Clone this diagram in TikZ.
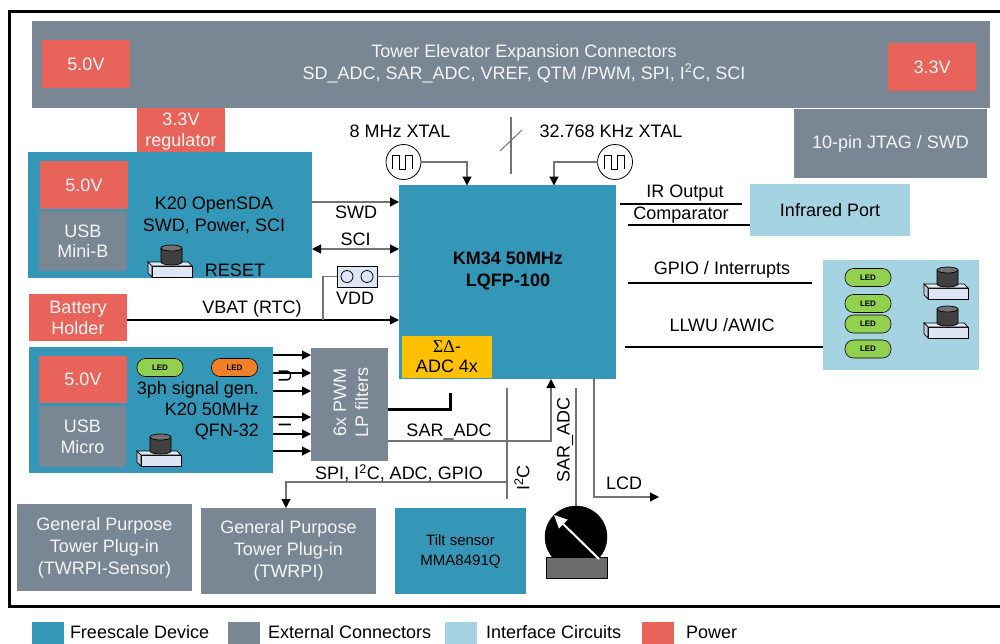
\documentclass[tikz,border=0pt]{standalone}
\usepackage{fontspec}
\setmainfont{Liberation Sans}
\newfontfamily\serifgr{Liberation Serif}
\usetikzlibrary{arrows.meta,calc}
\definecolor{fsblue}{RGB}{53,151,183}
\definecolor{extgrey}{RGB}{120,135,147}
\definecolor{ifblue}{RGB}{166,211,226}
\definecolor{pwrred}{RGB}{232,99,89}
\definecolor{adcor}{RGB}{255,192,0}
\definecolor{ledgreen}{RGB}{146,208,80}
\definecolor{ledorange}{RGB}{240,128,40}
\definecolor{btnbase}{RGB}{222,230,246}
\definecolor{capgrey}{RGB}{64,64,64}
\definecolor{linegrey}{RGB}{115,115,115}
\definecolor{textwhite}{RGB}{245,245,245}
\begin{document}
\begin{tikzpicture}[x=1pt,y=-1pt,
  every node/.style={inner sep=0pt, outer sep=0pt, align=center, font=\fontsize{18}{22}\selectfont},
  fsbox/.style={fill=fsblue},
  exbox/.style={fill=extgrey, text=textwhite},
  ifbox/.style={fill=ifblue},
  pwbox/.style={fill=pwrred, text=textwhite},
  conng/.style={draw=linegrey, line width=1.3pt},
  connb/.style={draw=black, line width=1.2pt},
  arr/.style={-{Triangle[length=9pt,width=9pt,color=black]}},
  darr/.style={{Triangle[length=9pt,width=9pt,color=black]}-{Triangle[length=9pt,width=9pt,color=black]}},
  ledpill/.style={draw=black, line width=0.6pt, rounded corners=8.5pt, minimum width=46pt, minimum height=18pt, font=\bfseries\fontsize{8}{9}\selectfont},
  pushbutton/.pic={
    \draw[fill=btnbase, line width=0.7pt] (4,0) rectangle (44,-11);
    \draw[fill=btnbase!85!white, line width=0.7pt] (0,-15) -- (40,-15) -- (44,-11) -- (4,-11) -- cycle;
    \draw[fill=btnbase!75!gray, line width=0.7pt] (0,-15) -- (4,-11) -- (4,0) -- (0,-4) -- cycle;
    \draw[fill=capgrey, line width=0.7pt] (13,-29) -- (13,-15) arc[start angle=180, end angle=0, x radius=10.5, y radius=3] -- (34,-29) -- cycle;
    \draw[fill=capgrey!75!white, line width=0.7pt] (23.5,-29) ellipse[x radius=10.5, y radius=3];
  },
  xtal/.pic={
    \draw[fill=white, line width=0.8pt] (0,0) circle[radius=17.5];
    \draw[line width=0.8pt] (-11,7) -- (-11,-7) -- (-4,-7) -- (-4,7) -- (2,7) -- (2,-7) -- (9,-7) -- (9,7);
  }
]
\useasboundingbox (0,0) rectangle (1000,643);
\fill[white] (0,0) rectangle (1000,643);

% outer frame
\draw[line width=3pt] (9,11) rectangle (1012,606);

% top bar
\node[exbox, minimum width=958pt, minimum height=87pt] (topbar) at (511,64.5) {};
\node[text=textwhite] (topbartext) at (524,63.5) {Tower Elevator Expansion Connectors\\SD\_ADC, SAR\_ADC, VREF, QTM /PWM, SPI, I\textsuperscript{2}C, SCI};
\node[pwbox, minimum width=88pt, minimum height=48pt] (p5a) at (86,64) {5.0V};
\node[pwbox, minimum width=88pt, minimum height=48pt] (p33) at (932,67) {3.3V};
\node[pwbox, minimum width=88pt, minimum height=47pt, font=\fontsize{18}{21}\selectfont] (reg) at (181,131.5) {3.3V\\regulator};
\node[exbox, minimum width=193pt, minimum height=69pt] (jtag) at (890.5,143.5) {10-pin JTAG / SWD};

% K20 OpenSDA
\node[fsbox, minimum width=284pt, minimum height=126pt] (k20sda) at (170,215) {};
\node[pwbox, minimum width=88pt, minimum height=48pt] (p5b) at (84,185) {5.0V};
\node[exbox, minimum width=88pt, minimum height=60pt, font=\fontsize{18}{20}\selectfont] (usbmini) at (83,241) {USB\\Mini-B};
\node (k20sdatext) at (214,215) {K20 OpenSDA\\SWD, Power, SCI};
\node (resettext) at (235,270) {RESET};
\pic at (148,277) {pushbutton};

% KM34
\node[fsbox, minimum width=217pt, minimum height=194pt] (km34) at (507.5,282) {};
\node[font=\bfseries\fontsize{18}{22}\selectfont] (km34text) at (508,271) {KM34 50MHz\\LQFP-100};
\node[fill=adcor, minimum width=90pt, minimum height=42pt, font=\fontsize{18}{20}\selectfont] (sdadc) at (447,357) {{\serifgr ΣΔ}-\\ADC 4x};

% Battery
\node[pwbox, minimum width=98pt, minimum height=47pt, font=\fontsize{18}{21}\selectfont] (batt) at (78,317.5) {Battery\\Holder};

% crystals
\pic at (403.5,162) {xtal};
\pic at (615,162) {xtal};
\coordinate (x8) at (421,162);
\coordinate (x32) at (597.5,162);
\node (x8text) at (400,131) {8 MHz XTAL};
\node (x32text) at (611,131) {32.768 KHz XTAL};
\draw[conng, arr] (x8) -- (467,162) -- (467,185.5);
\draw[conng, arr] (x32) -- (554,162) -- (554,185.5);
\coordinate (bus1) at (511,117);
\coordinate (bus2) at (511,174);
\coordinate (sl1) at (500,151);
\coordinate (sl2) at (522,130);
\draw[conng] (bus1) -- (bus2);
\draw[conng, line width=1pt] (sl1) -- (sl2);

% SWD / SCI / VDD / VBAT
\draw[conng, arr] (k20sda.east |- 0,202) -- (km34.west |- 0,202);
\node (swdtext) at (356,212) {SWD};
\draw[conng, darr] (k20sda.east |- 0,249) -- (km34.west |- 0,249);
\node (scitext) at (355.5,239) {SCI};
\node[draw=black, fill=btnbase, line width=0.8pt, minimum width=40pt, minimum height=21pt] (vdd) at (357,276.5) {};
\draw[line width=0.8pt] (347,276.5) circle[radius=6];
\draw[line width=0.8pt] (367,276.5) circle[radius=6];
\node (vddtext) at (355,298) {VDD};
\draw[conng] (vdd.east) -- (km34.west |- vdd.east);
\draw[connb, arr] (batt.east |- 0,320) -- (km34.west |- 0,320);
\draw[conng] (vdd.west) -- (323,276.5) -- (323,320);
\node (vbattext) at (252,309) {VBAT (RTC)};

% right side
\node[ifbox, minimum width=160pt, minimum height=52pt] (irport) at (830,210) {Infrared Port};
\coordinate (ir1) at (620,204);
\coordinate (ir2) at (742,204);
\draw[connb] (ir1) -- (ir2);
\node (irtext) at (685,193) {IR Output};
\coordinate (cmp1) at (628,225);
\draw[connb] (cmp1) -- (cmp1 -| irport.west);
\node (cmptext) at (681,215) {Comparator};
\node[ifbox, minimum width=156pt, minimum height=110pt] (ledbox) at (901,315) {};
\coordinate (gp1) at (628,283);
\coordinate (gp2) at (812,283);
\draw[connb] (gp1) -- (gp2);
\node (gptext) at (722,270) {GPIO / Interrupts};
\coordinate (ll1) at (625,347);
\draw[connb] (ll1) -- (ll1 -| ledbox.west);
\node (lltext) at (722,325) {LLWU /AWIC};
\node[ledpill, fill=ledgreen] (led1) at (868,277.5) {LED};
\node[ledpill, fill=ledgreen] (led2) at (868,303.5) {LED};
\node[ledpill, fill=ledgreen] (led3) at (868,324) {LED};
\node[ledpill, fill=ledgreen] (led4) at (868,349) {LED};
\pic at (924,299) {pushbutton};
\pic at (924,338) {pushbutton};

% K20 50MHz
\node[fsbox, minimum width=244pt, minimum height=126pt] (k20b) at (151,410) {};
\node[pwbox, minimum width=88pt, minimum height=47pt] (p5c) at (83,379.5) {5.0V};
\node[exbox, minimum width=87pt, minimum height=61pt, font=\fontsize{18}{21}\selectfont] (usbmicro) at (82.5,436.5) {USB\\Micro};
\node[ledpill, fill=ledgreen] (led5) at (160,367.5) {LED};
\node[ledpill, fill=ledorange] (led6) at (234.5,367.5) {LED};
\node[anchor=east, align=right, font=\fontsize{18}{21}\selectfont] (k20btext) at (259,411) {3ph signal gen.\\K20 50MHz\\QFN-32};
\pic at (137,466) {pushbutton};

% PWM filters
\node[exbox, minimum width=77pt, minimum height=113pt] (pwm) at (349.5,404.5) {};
\node[rotate=90, text=textwhite] (pwmtext) at (351,402) {6x PWM\\LP filters};
\foreach \yy in {355,373,391,417,434,451} {
  \draw[connb, arr] (k20b.east |- 0,\yy) -- (pwm.west |- 0,\yy);
}
\node[rotate=90] (utext) at (285,376) {U};
\node[rotate=90] (itext) at (285,425) {I};
\coordinate (thk1) at (450,393);
\draw[line width=3pt, line join=miter] (pwm.east |- 0,409) -- (450,409) -- (thk1);
\draw[conng, arr] (pwm.east |- 0,441) -- (551,441) -- (551,379);
\node (sartext) at (449,432) {SAR\_ADC};

% bottom boxes
\node[exbox, minimum width=175pt, minimum height=87pt] (twrpis) at (104.5,547.5) {General Purpose\\Tower Plug-in\\(TWRPI-Sensor)};
\node[exbox, minimum width=175pt, minimum height=86pt] (twrpi) at (288.5,551) {General Purpose\\Tower Plug-in\\(TWRPI)};
\node[fsbox, minimum width=131pt, minimum height=86pt, font=\fontsize{15}{20}\selectfont] (tilt) at (460.5,551) {Tilt sensor\\MMA8491Q};

% I2C / SPI
\coordinate (i2ctop) at (507,388);
\coordinate (i2cbot) at (507,499);
\draw[conng] (i2ctop) -- (i2cbot);
\node[rotate=90] (i2ctext) at (522,478) {I\textsuperscript{2}C};
\draw[conng, arr] (507,482) -- (286,482) -- (286,508);
\node (spitext) at (399,473) {SPI, I\textsuperscript{2}C, ADC, GPIO};

% dial
\node[draw=black, fill=black, circle, minimum size=62pt] (dial) at (576,537) {};
\node[draw=black, fill=gray!85!black, line width=0.8pt, minimum width=61pt, minimum height=21pt] (dialbase) at (576.5,567.5) {};
\draw[white, line width=2pt, -{Triangle[length=13pt,width=12pt,color=white]}] (599,559) -- (554,515);
\coordinate (sarv) at (576,388);
\draw[conng] (sarv) -- (dial.north);
\node[rotate=90] (sarvtext) at (565,440) {SAR\_ADC};

% LCD
\coordinate (lcdend) at (659,497);
\draw[conng, arr] (594,379) -- (594,497) -- (lcdend);
\node (lcdtext) at (624,483) {LCD};

% legend
\fill[fsblue] (32,622) rectangle (64,646);
\node[anchor=base west] (lg1) at (70,638.5) {Freescale Device};
\fill[extgrey] (228,622) rectangle (260,646);
\node[anchor=base west] (lg2) at (268,638.5) {External Connectors};
\fill[ifblue] (445,622) rectangle (477,646);
\node[anchor=base west] (lg3) at (486,638.5) {Interface Circuits};
\fill[pwrred] (642,622) rectangle (674,646);
\node[anchor=base west] (lg4) at (686,638.5) {Power};
\end{tikzpicture}
\end{document}
